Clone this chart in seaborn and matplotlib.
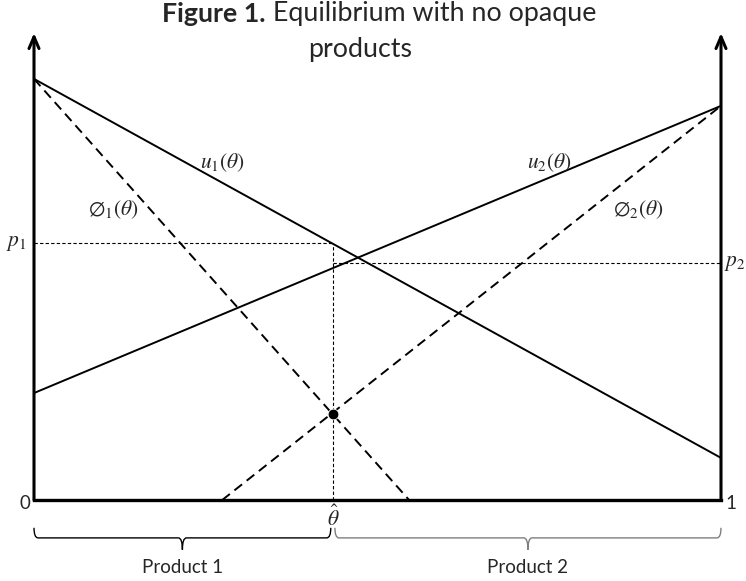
import numpy as np
import matplotlib
matplotlib.use("Agg")
import matplotlib.pyplot as plt
from matplotlib.path import Path
from matplotlib.patches import PathPatch
import seaborn as sns

# --- values (theta on [0,1], utility scaled so u1(0)=1) ---
theta = [0.0, 1.0]
u1 = [1.0, 0.10]
u2 = [0.254, 0.936]
phi1_x = [0.0, 0.546]
phi1_y = [1.0, 0.0]
phi2_x = [0.274, 1.0]
phi2_y = [0.0, 0.936]
theta_hat = 0.435
p1 = 0.610
p2 = 0.562
dot_y = 0.205
y_top = 1.109

sns.set_theme(style="white")
plt.rcParams["font.family"] = ["Lato", "DejaVu Sans"]
plt.rcParams["mathtext.fontset"] = "stix"

fig = plt.figure(figsize=(7.46, 5.81), dpi=100)
ax = fig.add_axes([34 / 746, 81 / 581, 687 / 746, 467 / 581])
ax.set_xlim(0, 1)
ax.set_ylim(0, y_top)
ax.axis("off")

# axes with arrow heads
for xa in (0, 1):
    ax.annotate("", xy=(xa, y_top), xytext=(xa, 0),
                arrowprops=dict(arrowstyle="->,head_length=0.7,head_width=0.3",
                                lw=2.2, color="black", shrinkA=0, shrinkB=0),
                annotation_clip=False)
ax.plot([0, 1], [0, 0], color="black", lw=2.4, solid_capstyle="projecting", clip_on=False)

# utility lines
sns.lineplot(x=theta, y=u1, color="black", lw=1.4, ax=ax)
sns.lineplot(x=theta, y=u2, color="black", lw=1.4, ax=ax)
sns.lineplot(x=phi1_x, y=phi1_y, color="black", lw=1.4, linestyle=(0, (5, 3)), ax=ax)
sns.lineplot(x=phi2_x, y=phi2_y, color="black", lw=1.4, linestyle=(0, (5, 3)), ax=ax)

# price guides
ax.plot([0, theta_hat], [p1, p1], color="black", lw=0.8, linestyle=(0, (3, 2)))
ax.plot([theta_hat, 1], [p2, p2], color="black", lw=0.8, linestyle=(0, (3, 2)))
ax.plot([theta_hat, theta_hat], [0, p1], color="black", lw=0.8, linestyle=(0, (3, 2)))
sns.scatterplot(x=[theta_hat], y=[dot_y], color="black", s=60, ax=ax, zorder=5)

# labels
mfs = 15.5
ax.text(0.275, 0.80, r"$u_1(\theta)$", fontsize=mfs, ha="center", va="center")
ax.text(0.115, 0.69, r"$\emptyset_1(\theta)$", fontsize=mfs, ha="center", va="center")
ax.text(0.750, 0.80, r"$u_2(\theta)$", fontsize=mfs, ha="center", va="center")
ax.text(0.880, 0.69, r"$\emptyset_2(\theta)$", fontsize=mfs, ha="center", va="center")
ax.text(-0.011, p1, r"$p_1$", fontsize=mfs, ha="right", va="center")
ax.text(1.004, p2, r"$p_2$", fontsize=mfs, ha="left", va="center")
ax.text(theta_hat, -0.012, r"$\hat{\theta}$", fontsize=mfs, ha="center", va="top")
ax.text(-0.006, -0.008, "0", fontsize=13.5, ha="right", va="center")
ax.text(1.006, -0.008, "1", fontsize=13.5, ha="left", va="center")


def brace(ax, x0, x1, color, label):
    yt, ym, yb, r = -0.066, -0.090, -0.118, 0.006
    xm = (x0 + x1) / 2
    verts = [(x0, yt), (x0, ym), (x0 + r, ym), (xm - r, ym), (xm, ym), (xm, yb),
             (xm, ym), (xm + r, ym), (x1 - r, ym), (x1, ym), (x1, yt)]
    codes = [Path.MOVETO, Path.CURVE3, Path.CURVE3, Path.LINETO, Path.CURVE3, Path.CURVE3,
             Path.CURVE3, Path.CURVE3, Path.LINETO, Path.CURVE3, Path.CURVE3]
    ax.add_patch(PathPatch(Path(verts, codes), fill=False, edgecolor=color, lw=1.0, clip_on=False))
    ax.text(xm, -0.160, label, fontsize=13.5, ha="center", va="center")


brace(ax, 0, theta_hat - 0.003, "black", "Product 1")
brace(ax, theta_hat + 0.003, 1, "#7f7f7f", "Product 2")

# title: bold lead-in then regular text
tfs = 19.3
t1 = fig.text(162 / 746, 1 - 22 / 581, "Figure 1.", fontsize=tfs, fontweight="bold",
              ha="left", va="baseline")
ax.annotate(" Equilibrium with no opaque", xy=(1, 0), xycoords=t1, xytext=(0, 0),
            textcoords="offset points", fontsize=tfs, ha="left", va="bottom",
            annotation_clip=False)
fig.text(0.483, 1 - 57 / 581, "products", fontsize=tfs, ha="center", va="baseline")

fig.savefig("out.png", dpi=100)
